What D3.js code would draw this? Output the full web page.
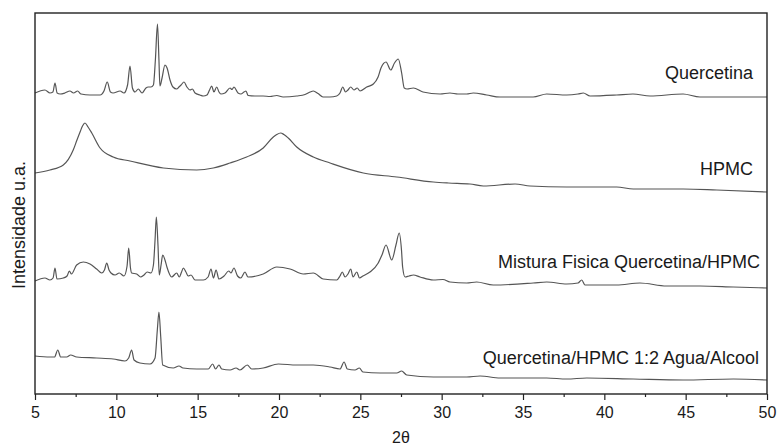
<!DOCTYPE html>
<html>
<head>
<meta charset="utf-8">
<script src="https://cdn.jsdelivr.net/npm/d3@7"></script>
<style>
  html, body { margin: 0; padding: 0; background: #fff; }
  svg { display: block; font-family: "Liberation Sans", Arial, sans-serif; }
</style>
</head>
<body>
<svg id="chart" width="777" height="448"></svg>
<script>
// ---- Data (2θ in degrees, intensity in stacked arbitrary units) ----
const xTicks = [5, 10, 15, 20, 25, 30, 35, 40, 45, 50];
const xMinorTicks = [7.5, 12.5, 17.5, 22.5, 27.5, 32.5, 37.5, 42.5, 47.5];
const seriesNames = ["Quercetina", "HPMC", "Mistura Fisica Quercetina/HPMC", "Quercetina/HPMC 1:2 Agua/Alcool"];

const quercetina = [
  [5.00,301],[5.61,304],[5.92,301],[6.10,302],[6.23,311],[6.36,301],[6.54,300],[6.84,301],[7.15,303],[7.37,301],
  [7.62,303],[7.83,300],[8.38,299],[9.00,299],[9.24,303],[9.44,312],[9.64,302],[9.80,301],[10.23,303],[10.47,301],
  [10.69,309],[10.84,328],[10.99,306],[11.15,302],[11.35,305],[11.58,301],[11.82,306],[11.96,307],[12.13,307],[12.28,309],
  [12.40,334],[12.53,370],[12.62,334],[12.68,308],[12.81,316],[12.99,329],[13.12,326],[13.30,314],[13.48,307],[13.71,305],
  [13.85,307],[13.98,309],[14.16,312],[14.34,307],[14.53,304],[14.67,305],[14.84,301],[15.14,299],[15.35,298],[15.57,299],
  [15.73,304],[15.86,308],[16.00,302],[16.17,307],[16.31,302],[16.43,300],[16.68,301],[16.99,306],[17.11,304.5],[17.23,307],
  [17.48,301],[17.66,300],[17.85,302],[17.97,303],[18.10,298.5],[18.52,298],[19.02,298],[19.45,297.5],[19.86,298.5],[20.25,297],
  [21.09,298],[21.60,299.5],[21.91,302],[22.11,303],[22.40,300.5],[22.70,297],[23.13,297],[23.55,298],[23.75,301],[23.92,307],
  [24.09,302],[24.24,304],[24.41,307],[24.61,304],[24.81,306],[24.98,303],[25.39,307],[25.80,310],[26.09,317],[26.27,326],
  [26.58,332],[26.87,324],[27.10,331],[27.33,335],[27.54,321],[27.70,306],[27.87,305],[28.26,306],[28.85,302],[29.90,300],
  [30.51,301],[31.00,300],[31.54,300],[31.94,301],[32.77,299],[33.59,297],[35.62,297],[36.46,300],[37.69,299],[38.38,300],
  [38.71,301],[39.12,298],[40.76,299],[41.76,300],[42.81,298],[44.84,300],[45.88,297],[47.91,297],[50.00,297]
];

const hpmc = [
  [5.00,221],[5.92,224],[6.74,229],[7.35,244],[7.58,254],[7.77,262],[7.92,268],[8.07,271],[8.26,267],[8.49,261],
  [9.00,246],[9.81,237],[10.84,233],[12.89,226],[14.94,224],[15.96,226],[16.99,231],[18.01,237],[19.03,246],[19.65,257],
  [19.86,259.5],[20.10,261],[20.30,259.5],[20.57,256],[21.09,247],[22.11,237],[23.14,231],[25.18,221],[27.24,217],[29.49,212],
  [30.41,211],[31.74,210],[32.56,208],[34.51,210],[35.43,208],[37.69,207],[40.76,207],[41.78,205],[44.85,205],[46.91,204],
  [50.00,202]
];

const mistura = [
  [5.00,113],[5.61,116],[5.92,114],[6.11,116],[6.23,126],[6.35,115],[6.74,116],[6.97,118],[7.11,123],[7.24,120],
  [7.56,129],[7.97,132],[8.38,130],[8.79,125],[9.10,121],[9.27,124],[9.41,131],[9.55,124],[9.67,121],[9.92,119],
  [10.18,121],[10.47,118],[10.66,128],[10.76,146],[10.87,126],[10.94,121],[11.25,120],[11.49,117],[11.70,119],[11.90,122],
  [12.13,121],[12.28,129],[12.38,154],[12.46,177],[12.56,149],[12.64,119],[12.75,129],[12.85,139],[12.99,134],[13.11,127],
  [13.40,117],[13.71,121],[13.87,117],[14.01,122],[14.12,126],[14.28,122],[14.42,118],[14.59,119],[14.84,114],[15.35,114],
  [15.64,117],[15.82,125],[15.97,116],[16.13,124],[16.31,115],[16.62,118],[16.91,123],[17.05,121],[17.23,126],[17.45,118],
  [17.65,116],[17.91,122],[18.09,117],[19.03,120],[19.86,127],[20.68,125],[21.49,120],[22.11,121],[22.72,115],[23.55,114],
  [23.75,118],[23.89,122],[24.06,117],[24.24,120],[24.41,125],[24.55,117],[24.78,122],[24.95,116],[25.16,118],[25.59,122],
  [26.10,131],[26.33,139],[26.58,149],[26.93,134],[27.19,149],[27.39,161],[27.53,144],[27.60,127],[27.75,117],[27.99,118],
  [28.26,119],[28.67,117],[29.49,114],[30.08,114.5],[30.51,112],[31.54,111],[32.15,112],[33.17,109],[35.63,111],[36.46,112],
  [37.69,110],[38.38,111],[38.61,114],[38.81,109],[40.76,109],[42.19,111],[43.83,108],[45.88,108],[47.93,107],[50.00,106]
];

const aguaAlcool = [
  [5.00,38],[5.92,37],[6.20,37],[6.40,44],[6.58,37],[6.95,37],[7.19,39],[7.56,37],[8.79,36],[9.81,35],
  [10.53,33],[10.76,36],[10.94,44],[11.09,34],[11.45,31],[12.07,30],[12.38,36],[12.52,64],[12.62,82],[12.73,57],
  [12.85,29],[13.50,26],[13.85,28],[14.10,26],[14.94,25],[15.65,25],[15.92,30],[16.10,25],[16.31,29],[16.48,25],
  [16.99,24],[17.36,26],[17.60,24],[18.05,29],[18.32,25],[19.03,26],[19.96,30],[21.09,29],[22.11,29],[23.14,27],
  [23.75,25],[24.00,32],[24.20,25],[24.67,24],[24.94,26],[25.16,22],[26.21,21],[27.24,21],[27.54,23],[27.85,19],
  [29.49,17],[31.54,17],[32.36,18],[33.59,16],[36.46,16],[37.69,15],[38.92,16],[41.78,15],[44.85,14],[47.93,15],
  [50.00,14]
];

const allSeries = [quercetina, hpmc, mistura, aguaAlcool];

// ---- Layout ----
const svg = d3.select("#chart");
const mLeft = 35, mRight = 767, mTop = 13, mBottom = 394;

const x = d3.scaleLinear().domain([5, 50]).range([mLeft, mRight]);
const y = d3.scaleLinear().domain([0, 381]).range([mBottom, mTop]);

svg.append("rect").attr("width", 777).attr("height", 448).attr("fill", "#fff");

// Traces
const line = d3.line()
  .x(d => x(d[0]))
  .y(d => y(d[1]))
  .curve(d3.curveMonotoneX);

svg.append("g").selectAll("path")
  .data(allSeries)
  .join("path")
  .attr("d", line)
  .attr("fill", "none")
  .attr("stroke", "#555")
  .attr("stroke-width", 1.2)
  .attr("stroke-linejoin", "round");

// Series labels
const labelPos = [
  { end: 753, base: 79 },
  { end: 753, base: 175 },
  { end: 760, base: 268 },
  { end: 759, base: 364 }
];
svg.append("g").selectAll("text")
  .data(seriesNames)
  .join("text")
  .attr("x", (d, i) => labelPos[i].end)
  .attr("y", (d, i) => labelPos[i].base)
  .attr("text-anchor", "end")
  .attr("font-size", 18)
  .attr("fill", "#1a1a1a")
  .text(d => d);

// Frame
svg.append("rect")
  .attr("x", mLeft).attr("y", mTop)
  .attr("width", mRight - mLeft).attr("height", mBottom - mTop)
  .attr("fill", "none").attr("stroke", "#222").attr("stroke-width", 1.4);

// Axis
const axis = d3.axisBottom(x).tickValues(xTicks).tickSize(6).tickPadding(7).tickFormat(d3.format("d"));
const gAxis = svg.append("g").attr("transform", `translate(0,${mBottom})`).call(axis);
gAxis.select(".domain").remove();
gAxis.selectAll("line").attr("stroke", "#222").attr("stroke-width", 1.2);
gAxis.selectAll("text").attr("font-size", 16).attr("fill", "#1a1a1a")
  .attr("font-family", "'Liberation Sans', Arial, sans-serif");

const minor = d3.axisBottom(x).tickValues(xMinorTicks).tickSize(3).tickFormat("");
const gMinor = svg.append("g").attr("transform", `translate(0,${mBottom})`).call(minor);
gMinor.select(".domain").remove();
gMinor.selectAll("line").attr("stroke", "#222").attr("stroke-width", 1.2);

// Axis titles
svg.append("text")
  .attr("x", (mLeft + mRight) / 2).attr("y", 443)
  .attr("text-anchor", "middle").attr("font-size", 16).attr("fill", "#1a1a1a")
  .text("2θ");

svg.append("text")
  .attr("transform", "translate(25,225) rotate(-90)")
  .attr("text-anchor", "middle").attr("font-size", 18).attr("fill", "#1a1a1a")
  .text("Intensidade u.a.");
</script>
</body>
</html>
